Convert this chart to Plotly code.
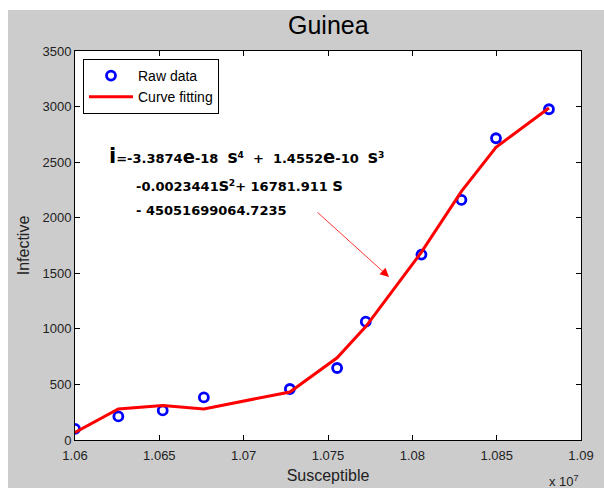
import plotly.graph_objects as go

# ---- data (susceptible in units of 1e7) ----
susceptible = [1.0600, 1.06257, 1.06520, 1.06764, 1.07274, 1.07554, 1.07724, 1.08054, 1.08291, 1.08496, 1.08810]
infective_raw = [100, 212, 266, 383, 459, 648, 1065, 1668, 2160, 2715, 2976]
infective_fit = [68, 280, 310, 280, 432, 740, 1020, 1690, 2237, 2634, 2987]
x_ticks = [1.06, 1.065, 1.07, 1.075, 1.08, 1.085, 1.09]
x_tick_labels = ["1.06", "1.065", "1.07", "1.075", "1.08", "1.085", "1.09"]
y_ticks = [0, 500, 1000, 1500, 2000, 2500, 3000, 3500]

W, H = 604, 488
ML, MR, MT, MB = 75, 23, 51, 48
PW, PH = W - ML - MR, H - MT - MB


def px(x):
    return (x - ML) / PW


def py(y):
    return (H - MB - y) / PH


FONT = "Liberation Sans, Arial, sans-serif"
GRAY = "#cccccc"

fig = go.Figure()
fig.add_trace(go.Scatter(
    x=susceptible, y=infective_raw, mode="markers", name="Raw data",
    marker=dict(symbol="circle-open", size=9, color="#0000ff", line=dict(width=2.8, color="#0000ff")),
))
fig.add_trace(go.Scatter(
    x=susceptible, y=infective_fit, mode="lines", name="Curve fitting",
    line=dict(color="#ff0000", width=3),
))

eq_font = dict(family="DejaVu Sans, Verdana, sans-serif", size=13, color="black")
I_ = '<span style="font-size:21px">i</span>'
E_ = '<span style="font-size:18px">e</span>'
S_ = '<span style="font-size:17px">s</span>'
nb = "\u00a0"
line1 = ("<b>" + I_ + "=-3.3874" + E_ + "-18" + nb * 2 + S_ + "<sup>4</sup>" + nb * 2 + "+" + nb * 2 + "1.4552"
         + E_ + "-10" + nb * 2 + S_ + "<sup>3</sup></b>")
line2 = "<b>-0.0023441" + S_ + "<sup>2</sup>+" + nb + "16781.911" + nb + S_ + "</b>"
line3 = "<b>-" + nb + "45051699064.7235</b>"

annotations = [
    dict(text=line1, x=px(107), y=py(156), xref="paper", yref="paper", xanchor="left", yanchor="middle",
         showarrow=False, font=eq_font),
    dict(text=line2, x=px(134), y=py(185), xref="paper", yref="paper", xanchor="left", yanchor="middle",
         showarrow=False, font=eq_font),
    dict(text=line3, x=px(134), y=py(210), xref="paper", yref="paper", xanchor="left", yanchor="middle",
         showarrow=False, font=eq_font),
    # arrow
    dict(text="", x=px(389), y=py(277), xref="paper", yref="paper", ax=-73, ay=-66,
         showarrow=True, arrowhead=2, arrowsize=2.2, arrowwidth=0.8, arrowcolor="#ff0000"),
    dict(text="x 10<sup>7</sup>", x=px(581), y=py(481), xref="paper", yref="paper",
         xanchor="right", yanchor="middle", showarrow=False, font=dict(family=FONT, size=13, color="#222")),
    dict(text="Guinea", x=0.5, y=py(25), xref="paper", yref="paper", xanchor="center", yanchor="middle",
         showarrow=False, font=dict(family=FONT, size=25, color="black")),
]

shapes = [
    dict(type="rect", xref="paper", yref="paper", x0=px(-5), x1=px(8), y0=py(H + 5), y1=py(-5),
         fillcolor="white", line=dict(width=0), layer="below"),
    dict(type="rect", xref="paper", yref="paper", x0=px(-5), x1=px(W + 5), y0=py(10), y1=py(-5),
         fillcolor="white", line=dict(width=0), layer="below"),
]

axis_common = dict(
    showgrid=False, zeroline=False, showline=True, linecolor="black", linewidth=1,
    mirror="ticks", ticks="inside", ticklen=5, tickcolor="black",
    tickfont=dict(family=FONT, size=13, color="#222"),
)

fig.update_layout(
    width=W, height=H,
    margin=dict(l=ML, r=MR, t=MT, b=MB, autoexpand=False),
    paper_bgcolor=GRAY, plot_bgcolor="white",
    showlegend=True,
    legend=dict(x=px(83), y=py(59), xanchor="left", yanchor="top", bgcolor="white",
                bordercolor="black", borderwidth=1, font=dict(family=FONT, size=14, color="black"),
                itemwidth=44),
    xaxis=dict(range=[1.06, 1.09], tickvals=x_ticks, ticktext=x_tick_labels, ticklabelstandoff=3,
               title=dict(text="Susceptible", font=dict(family=FONT, size=16, color="#222"), standoff=8),
               **axis_common),
    yaxis=dict(range=[0, 3500], tickvals=y_ticks,
               title=dict(text="Infective", font=dict(family=FONT, size=16, color="#222"), standoff=8),
               **axis_common),
    annotations=annotations,
    shapes=shapes,
)

fig.write_html("out.html")
